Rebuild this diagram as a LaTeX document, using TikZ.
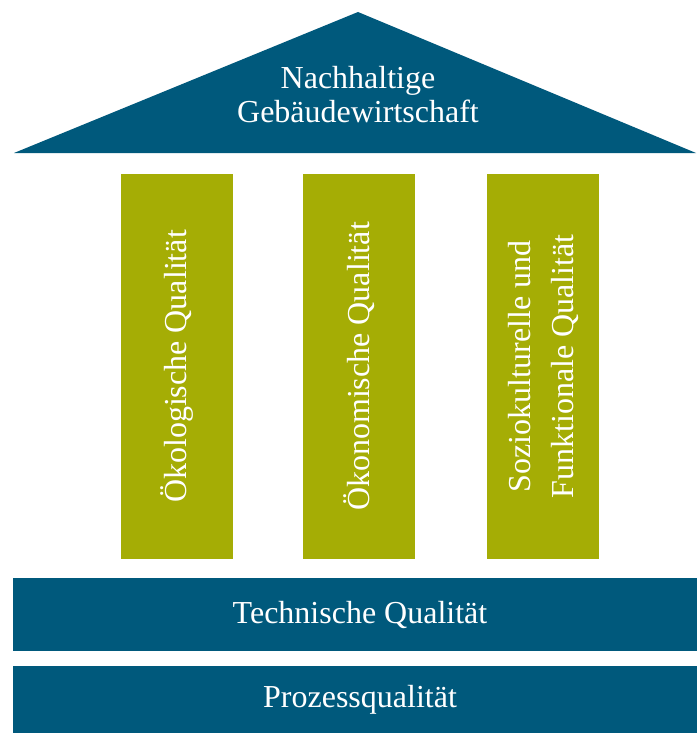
\documentclass[tikz,border=0pt]{standalone}
\usepackage{fontspec}
\setmainfont{Liberation Serif}
\usetikzlibrary{positioning}
\definecolor{gbblue}{RGB}{0,89,124}
\definecolor{gbolive}{RGB}{165,173,5}

\begin{document}
\begin{tikzpicture}[x=1pt, y=-1pt,
  pillar/.style={rectangle, fill=gbolive, text=white, rotate=90, inner sep=0pt,
                 minimum width=385pt, minimum height=112pt, align=center,
                 font=\fontsize{32}{43}\selectfont},
  band/.style={rectangle, fill=gbblue, text=white, inner sep=0pt,
               minimum width=694pt, font=\fontsize{32}{36}\selectfont},
  rooftext/.style={text=white, align=center, font=\fontsize{32}{34}\selectfont}
]
  \useasboundingbox[fill=white] (0,0) rectangle (696,733);
  % roof
  \fill[gbblue] (14,153) -- (358,12) -- (696,153) -- cycle;
  \node[rooftext] (roof) at (358,95) {Nachhaltige\\Gebäudewirtschaft};
  % pillars
  \node[pillar] (oeko)  at (177,366.5) {Ökologische Qualität};
  \node[pillar] (oekon) at (359,366.5) {Ökonomische Qualität};
  \node[pillar] (sozio) at (543,366.5) {Soziokulturelle und\\Funktionale Qualität};
  % foundation (runs past the right edge)
  \node[band, minimum height=73pt] (tech) at (360,614.5) {Technische Qualität};
  \node[band, minimum height=67pt] (proz) at (360,699.5) {Prozessqualität};
\end{tikzpicture}
\end{document}
